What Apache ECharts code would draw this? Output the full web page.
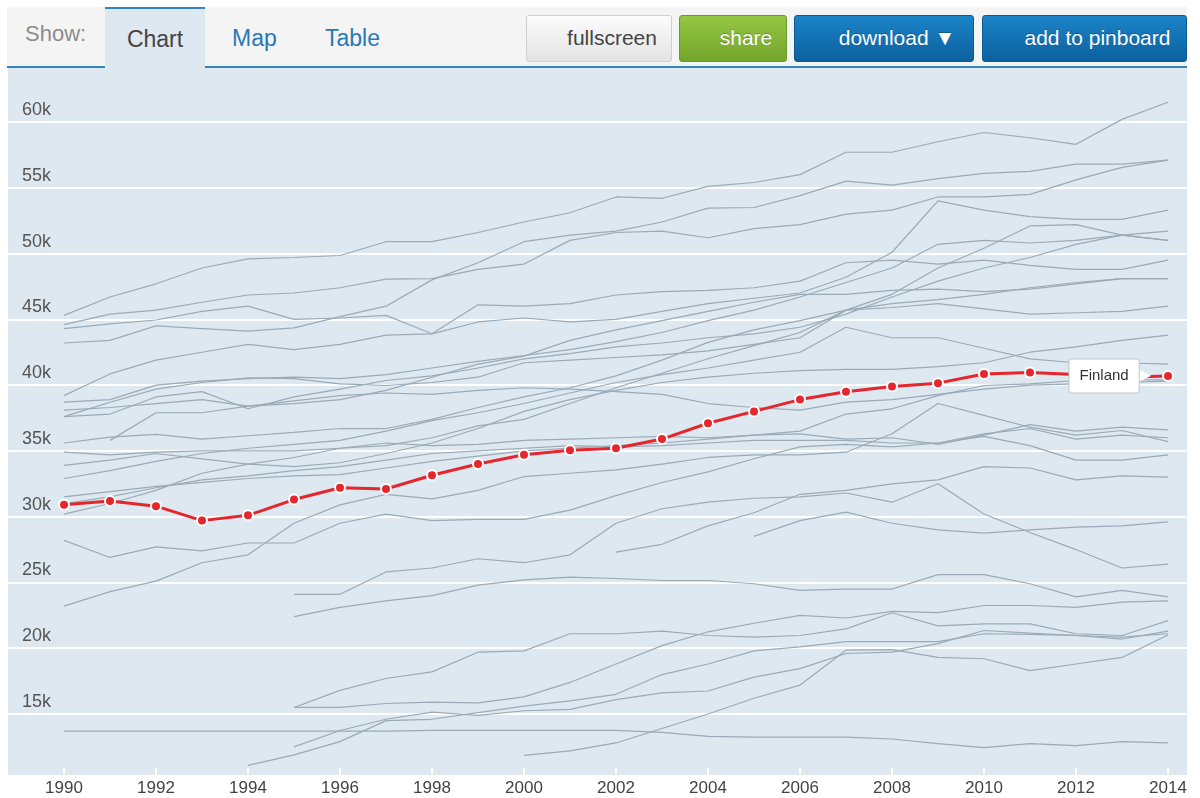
<!DOCTYPE html>
<html lang="en">
<head>
    <meta charset="UTF-8">
    <title>Average wages</title>
    <script src="https://cdn.jsdelivr.net/npm/echarts/dist/echarts.min.js"></script>
    <style>
        html, body {
            margin: 0;
            padding: 0;
            background: #fff;
            font-family: "Liberation Sans", Arial, sans-serif;
        }
        /* grey tool bar on top of the chart */
        #bar {
            position: absolute;
            left: 7px;
            top: 7px;
            width: 1180px;
            height: 59px;
            background: #f4f4f4;
            border-bottom: 2px solid #3584c0;
            z-index: 3;
        }
        #bar .lbl {
            position: absolute;
            top: 14px;
            font-size: 22px;
            color: #8c8c8c;
        }
        #bar .tab {
            position: absolute;
            top: 18px;
            font-size: 23px;
            color: #2a78b5;
        }
        #bar .active {
            position: absolute;
            left: 98px;
            top: 0;
            width: 100px;
            height: 59px;
            border-top: 2px solid #3584c0;
            background: #dde8f0;
            color: #444;
            font-size: 23px;
            text-align: center;
            line-height: 60px;
        }
        #bar .btn {
            position: absolute;
            top: 8px;
            height: 47px;
            box-sizing: border-box;
            border-radius: 3px;
            font-size: 21px;
            line-height: 43px;
            text-align: center;
            padding-left: 26px;
            color: #fff;
            text-shadow: 0 -1px 0 rgba(0,0,0,0.25);
        }
        #plotbg {
            position: absolute;
            left: 8px;
            top: 68px;
            width: 1179px;
            height: 707px;
            background: #dde8f0;
        }
        #main {
            position: absolute;
            left: 0;
            top: 0;
            width: 1200px;
            height: 798px;
            z-index: 1;
        }
    </style>
</head>
<body>
<div id="plotbg"></div>
<div id="main"></div>
<div id="bar">
    <span class="lbl" style="left:18px">Show:</span>
    <div class="active">Chart</div>
    <span class="tab" style="left:225px">Map</span>
    <span class="tab" style="left:318px">Table</span>
    <div class="btn" style="left:519px;width:146px;color:#444;text-shadow:none;border:1px solid #cfcfcf;background:linear-gradient(#fbfbfb,#e4e4e4)">fullscreen</div>
    <div class="btn" style="left:672px;width:108px;border:1px solid #6c9a2a;background:linear-gradient(#95c743,#72a52b)">share</div>
    <div class="btn" style="left:787px;width:180px;border:1px solid #0b5a94;background:linear-gradient(#1b84c8,#0b609f)">download &#9660;</div>
    <div class="btn" style="left:975px;width:205px;border:1px solid #0b5a94;background:linear-gradient(#1b84c8,#0b609f)">add to pinboard</div>
</div>
<script type="text/javascript">
    var years = ['1990','1991','1992','1993','1994','1995','1996','1997','1998','1999','2000','2001','2002',
        '2003','2004','2005','2006','2007','2008','2009','2010','2011','2012','2013','2014'];

    // values in thousands
    var finland = [30.9,31.2,30.8,29.7,30.1,31.3,32.2,32.1,33.15,34.0,34.7,35.05,35.2,35.9,37.1,38.0,38.9,39.5,39.9,40.15,40.85,40.95,40.8,40.6,40.7];

    var line01 = [45.3,46.7,47.7,48.9,49.6,49.7,49.85,50.9,50.9,51.6,52.4,53.1,54.3,54.2,55.1,55.4,56.0,57.7,57.7,58.5,59.2,58.8,58.3,60.2,61.5];
    var line02 = [44.6,45.4,45.7,46.3,46.85,47.0,47.4,48.05,48.1,48.8,49.2,51.0,51.6,51.7,51.2,51.9,52.2,53.0,53.3,54.3,54.3,54.5,55.6,56.55,57.1];
    var line03 = [43.2,43.4,44.5,44.3,44.1,44.35,45.2,46.0,48.0,49.3,50.9,51.4,51.7,52.4,53.45,53.5,54.4,55.5,55.2,55.7,56.1,56.25,56.8,56.8,57.1];
    var line04 = [39.2,40.85,41.9,42.5,43.1,42.7,43.1,43.8,43.9,44.8,45.1,44.8,45.0,45.6,46.2,46.6,47.0,48.2,50.1,54.0,53.3,52.8,52.6,52.6,53.3];
    var line05 = [44.3,44.65,44.95,45.6,46.0,45.0,45.1,45.3,43.9,46.1,46.0,46.2,46.85,47.1,47.2,47.4,47.9,49.3,49.5,49.2,49.5,49.1,48.8,48.8,49.5];
    var line06 = [38.7,38.9,40.0,40.3,40.5,40.6,40.5,40.8,41.3,41.8,42.25,42.7,43.3,44.0,44.9,45.7,46.7,47.8,48.9,50.7,51.0,50.8,51.0,51.4,51.7];
    var line07 = [37.6,38.7,39.7,40.2,40.55,40.5,40.1,39.97,40.2,40.6,41.7,41.9,42.1,42.3,42.6,43.1,43.6,45.7,46.9,48.9,50.4,52.1,52.2,51.4,51.0];
    var line08 = [37.6,37.8,39.1,39.5,38.2,39.1,39.7,40.35,40.7,41.3,42.0,42.4,42.9,43.2,43.6,43.9,44.4,45.4,46.7,47.9,48.9,49.7,50.7,51.4,51.0];
    var line09 = [null,35.8,37.9,37.9,38.4,38.6,38.9,39.6,40.6,41.6,42.2,43.4,44.2,44.9,45.6,46.3,46.9,46.9,47.2,47.3,47.1,47.3,47.7,48.1,48.1];
    var line10 = [35.6,36.05,36.25,35.9,36.15,36.4,36.7,36.7,37.4,38.3,39.1,39.8,40.7,41.9,43.25,44.2,44.9,45.7,46.2,46.5,46.9,47.4,47.8,48.1,48.1];
    var line11 = [34.9,34.7,34.9,35.0,35.0,35.0,35.2,35.4,36.0,36.9,37.4,38.6,39.8,40.9,42.0,43.0,44.0,45.7,45.9,46.2,45.8,45.4,45.5,45.6,46.0];
    var line12 = [33.9,34.3,34.8,34.4,34.0,33.8,34.1,34.8,35.6,36.7,38.0,38.9,39.6,40.2,40.6,40.9,41.1,41.2,41.2,41.4,41.7,42.5,42.9,43.4,43.8];
    var line13 = [32.9,33.5,34.2,34.8,35.2,35.5,35.8,36.5,37.3,37.9,38.6,39.4,40.2,40.8,41.3,41.9,42.5,44.4,43.6,43.6,42.8,42.0,41.7,41.7,41.6];
    var line14 = [31.5,31.9,32.3,32.6,32.9,33.1,33.2,33.7,34.2,34.6,35.0,35.2,35.4,35.6,35.9,36.2,36.5,37.8,38.2,39.2,39.97,40.1,40.35,40.4,40.4];
    var line15 = [30.2,31.0,32.0,33.3,34.0,34.5,35.2,35.6,35.4,35.5,35.8,35.9,36.0,36.1,36.0,36.2,36.3,35.9,36.0,35.5,36.2,37.0,36.5,36.8,36.6];
    var line16 = [31.0,31.5,32.2,32.8,33.1,33.5,33.8,34.3,34.8,35.0,35.2,35.4,35.3,35.4,35.6,35.8,35.8,35.8,35.6,35.6,36.3,36.7,35.9,36.2,36.0];
    var line17 = [38.1,38.3,38.6,38.9,38.4,38.8,39.2,39.4,39.3,39.6,39.8,39.7,39.5,39.3,38.6,38.3,38.1,38.7,38.9,39.3,39.7,40.0,40.1,40.2,40.3];
    var line18 = [23.2,24.3,25.1,26.5,27.1,29.5,30.9,31.7,31.35,32.0,33.05,33.3,33.55,34.0,34.5,34.7,34.7,34.9,36.3,38.6,37.7,36.8,36.2,36.55,35.7];
    var line19 = [28.2,26.9,27.7,27.4,28.0,28.0,29.5,30.2,29.7,29.8,29.8,30.5,31.6,32.6,33.4,34.4,35.3,35.5,35.3,35.6,36.1,35.4,34.3,34.3,34.7];
    var line20 = [null,null,null,null,null,24.1,24.1,25.8,26.1,26.8,26.5,27.1,29.5,30.6,31.1,31.4,31.5,31.8,31.1,32.5,30.2,28.8,27.5,26.1,26.4];
    var line21 = [null,null,null,null,null,null,null,null,null,null,null,null,27.3,27.9,29.3,30.3,31.7,32.0,32.5,32.8,33.8,33.7,32.8,33.1,33.0];
    var line22 = [null,null,null,null,null,null,null,null,null,null,null,null,null,null,null,28.5,29.7,30.35,29.5,29.0,28.75,29.0,29.2,29.3,29.6];
    var line23 = [null,null,null,null,null,22.4,23.1,23.6,24.0,24.8,25.2,25.4,25.3,25.15,25.15,24.9,24.4,24.5,24.5,25.6,25.6,24.9,23.9,24.4,23.9];
    var line24 = [null,null,null,null,null,15.5,15.5,15.8,15.9,15.85,16.3,17.4,18.8,20.2,21.25,21.9,22.5,22.3,22.8,22.7,23.25,23.25,23.1,23.5,23.6];
    var line25 = [null,null,null,null,null,15.5,16.8,17.7,18.2,19.7,19.8,21.1,21.1,21.3,20.97,20.85,20.97,21.47,22.7,21.7,21.85,21.85,21.1,20.97,22.1];
    var line26 = [null,null,null,null,null,12.5,13.75,14.6,15.15,14.9,15.25,15.35,16.1,16.6,16.75,17.8,18.45,19.6,19.7,20.35,21.35,21.15,20.97,20.85,21.1];
    var line27 = [null,null,null,null,11.1,11.9,12.9,14.5,14.6,15.1,15.6,16.0,16.5,18.0,18.8,19.8,20.1,20.5,20.5,20.5,21.1,21.05,20.97,20.7,21.3];
    var line28 = [null,null,null,null,null,null,null,null,null,null,11.85,12.2,12.8,13.9,15.0,16.2,17.2,19.85,19.9,19.3,19.2,18.3,18.8,19.3,21.0];
    var line29 = [13.7,13.7,13.7,13.7,13.7,13.7,13.7,13.7,13.75,13.75,13.75,13.75,13.75,13.6,13.3,13.25,13.25,13.25,13.1,12.75,12.45,12.75,12.6,12.9,12.8];

    var greyLines = [line01,line02,line03,line04,line05,line06,line07,line08,line09,line10,
        line11,line12,line13,line14,line15,line16,line17,line18,line19,line20,
        line21,line22,line23,line24,line25,line26,line27,line28,line29];

    var chart = echarts.init(document.getElementById('main'));

    var series = greyLines.map(function (d, i) {
        return {
            name: 'c' + i,
            type: 'line',
            xAxisIndex: 1,
            yAxisIndex: 1,
            data: d,
            symbol: 'none',
            silent: true,
            lineStyle: {color: '#9aaab6', width: 1.2},
            z: 2
        };
    });

    var last = finland.length - 1;
    series.push({
        name: 'Finland',
        type: 'line',
        xAxisIndex: 1,
        yAxisIndex: 1,
        z: 5,
        data: finland.map(function (v, i) {
            if (i !== last) return v;
            // name box with a small white pointer towards the last point
            return {
                value: v,
                label: {
                    show: true,
                    position: 'left',
                    distance: 11,
                    formatter: '{box|Finland}{arr|\u25B6}',
                    rich: {
                        box: {
                            backgroundColor: '#fff',
                            borderColor: '#bccad5',
                            borderWidth: 1,
                            borderRadius: 2,
                            padding: [9, 10, 9, 10],
                            color: '#333',
                            fontSize: 15,
                            fontFamily: 'Liberation Sans'
                        },
                        arr: {
                            color: '#fff',
                            fontSize: 16,
                            verticalAlign: 'middle',
                            fontFamily: 'DejaVu Sans'
                        }
                    }
                }
            };
        }),
        symbol: 'circle',
        symbolSize: 10,
        lineStyle: {color: '#e5262d', width: 3},
        itemStyle: {color: '#e5262d', borderColor: '#fff', borderWidth: 2}
    });

    var option = {
        animation: false,
        grid: [
            {left: 8, right: 13, top: 56.2, bottom: 18.2},
            {left: 64, right: 32, top: 56.2, bottom: 18.2}
        ],
        xAxis: [
            {gridIndex: 0, type: 'value', min: 0, max: 1, show: false},
            {
                gridIndex: 1,
                type: 'category',
                data: years,
                boundaryGap: false,
                offset: -5,
                axisLine: {show: false},
                axisTick: {
                    show: true,
                    inside: true,
                    length: 7,
                    interval: 1,
                    lineStyle: {color: '#fff', width: 2}
                },
                axisLabel: {
                    interval: 1,
                    margin: 5,
                    fontSize: 17,
                    color: '#444',
                    fontFamily: 'Liberation Sans'
                },
                splitLine: {show: false}
            }
        ],
        yAxis: [
            {
                gridIndex: 0,
                type: 'value',
                min: 10,
                max: 65,
                interval: 5,
                axisLine: {show: false},
                axisTick: {show: false},
                axisLabel: {
                    inside: true,
                    margin: 14,
                    align: 'left',
                    verticalAlign: 'bottom',
                    padding: [0, 0, 3, 0],
                    fontSize: 18,
                    color: '#555',
                    fontFamily: 'Liberation Sans',
                    formatter: function (v) {
                        return (v === 10 || v === 65) ? '' : v + 'k';
                    }
                },
                splitLine: {lineStyle: {color: '#fff', width: 2}}
            },
            {gridIndex: 1, type: 'value', min: 10, max: 65, interval: 5, show: false, splitLine: {show: false}}
        ],
        series: series
    };
    chart.setOption(option);
</script>
</body>
</html>
